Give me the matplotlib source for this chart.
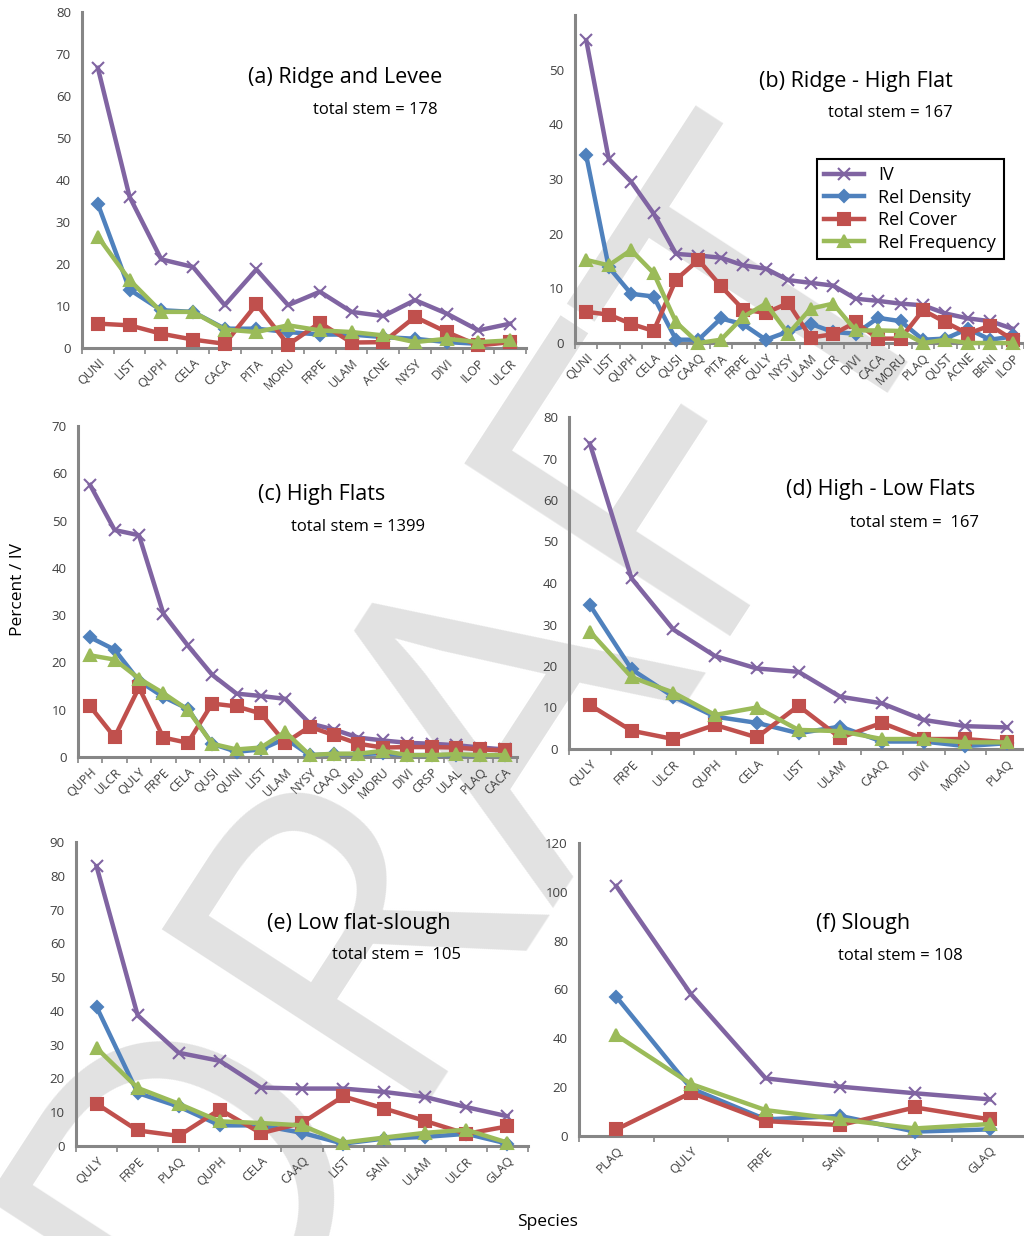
import numpy as np
import matplotlib.pyplot as plt

plt.rcParams['font.family'] = ['Open Sans', 'DejaVu Sans']

# ---- data ----
sp_a = ["QUNI", "LIST", "QUPH", "CELA", "CACA", "PITA", "MORU", "FRPE", "ULAM",
        "ACNE", "NYSY", "DIVI", "ILOP", "ULCR"]
iv_a = [66.7, 36.0, 21.1, 19.3, 10.2, 18.7, 10.2, 13.4, 8.6, 7.6, 11.4, 8.2, 4.2, 5.8]
den_a = [34.3, 13.9, 9.0, 8.6, 4.6, 4.6, 3.8, 3.2, 3.2, 2.6, 2.2, 1.4, 1.0, 1.4]
cov_a = [5.8, 5.4, 3.4, 2.0, 1.0, 10.4, 0.8, 6.0, 1.3, 1.4, 7.4, 3.8, 0.6, 1.4]
frq_a = [26.5, 16.2, 8.6, 8.6, 4.4, 3.8, 5.4, 4.2, 3.8, 3.0, 1.4, 2.2, 1.4, 1.8]

sp_b = ["QUNI", "LIST", "QUPH", "CELA", "QUSI", "CAAQ", "PITA", "FRPE", "QULY", "NYSY",
        "ULAM", "ULCR", "DIVI", "CACA", "MORU", "PLAQ", "QUST", "ACNE", "BENI", "ILOP"]
iv_b = [55.4, 33.7, 29.5, 23.7, 16.3, 16.0, 15.6, 14.2, 13.6, 11.5,
        11.0, 10.5, 8.1, 7.7, 7.2, 6.9, 5.4, 4.5, 4.0, 2.6]
den_b = [34.3, 13.9, 9.0, 8.5, 0.6, 0.6, 4.5, 3.4, 0.6, 2.1,
         3.5, 2.0, 1.7, 4.6, 4.0, 0.6, 0.8, 2.6, 0.6, 1.2]
cov_b = [5.7, 5.2, 3.5, 2.2, 11.6, 15.2, 10.4, 6.1, 5.5, 7.3,
         1.0, 1.6, 3.8, 0.8, 0.8, 6.0, 3.8, 1.7, 3.2, 0.6]
frq_b = [15.2, 14.2, 17.0, 12.8, 3.8, 0.0, 0.6, 4.8, 7.2, 1.7,
         6.3, 7.2, 2.3, 2.3, 2.2, 0.0, 0.6, 0.0, 0.0, 0.0]

sp_c = ["QUPH", "ULCR", "QULY", "FRPE", "CELA", "QUSI", "QUNI", "LIST", "ULAM",
        "NYSY", "CAAQ", "ULRU", "MORU", "DIVI", "CRSP", "ULAL", "PLAQ", "CACA"]
iv_c = [57.5, 48.0, 46.9, 30.3, 23.6, 17.4, 13.4, 12.9, 12.3,
        7.1, 5.8, 4.1, 3.5, 3.0, 2.8, 2.5, 2.0, 1.6]
den_c = [25.3, 22.7, 16.1, 12.7, 10.2, 2.8, 1.1, 1.6, 3.9,
         0.4, 0.6, 0.6, 0.8, 0.4, 0.4, 0.4, 0.4, 0.4]
cov_c = [10.7, 4.2, 14.7, 4.1, 3.0, 11.3, 10.7, 9.2, 3.0,
         6.4, 4.6, 2.8, 2.0, 2.1, 2.1, 2.0, 1.6, 1.4]
frq_c = [21.5, 20.6, 16.6, 13.5, 10.0, 2.8, 1.6, 2.0, 5.3,
         0.4, 0.7, 0.7, 1.3, 0.4, 0.4, 0.6, 0.4, 0.4]

sp_d = ["QULY", "FRPE", "ULCR", "QUPH", "CELA", "LIST", "ULAM", "CAAQ", "DIVI", "MORU", "PLAQ"]
iv_d = [73.6, 41.1, 28.8, 22.4, 19.4, 18.6, 12.6, 11.0, 7.0, 5.5, 5.2]
den_d = [34.7, 19.2, 12.6, 7.8, 6.3, 3.8, 5.4, 1.8, 1.8, 0.7, 1.4]
cov_d = [10.6, 4.4, 2.4, 5.8, 2.8, 10.4, 2.7, 6.3, 2.4, 2.4, 1.6]
frq_d = [28.3, 17.3, 13.6, 8.2, 10.0, 4.6, 4.3, 2.4, 2.4, 1.6, 1.6]

sp_e = ["QULY", "FRPE", "PLAQ", "QUPH", "CELA", "CAAQ", "LIST", "SANI", "ULAM", "ULCR", "GLAQ"]
iv_e = [82.8, 38.7, 27.6, 25.2, 17.3, 17.0, 17.0, 16.0, 14.5, 11.5, 8.8]
den_e = [41.2, 15.7, 11.7, 6.1, 6.1, 3.9, 0.7, 2.2, 2.7, 3.6, 0.7]
cov_e = [12.5, 4.6, 3.0, 10.8, 3.8, 6.8, 14.7, 11.1, 7.4, 3.6, 5.8]
frq_e = [29.0, 17.2, 12.5, 7.3, 6.8, 6.1, 1.0, 2.5, 3.9, 4.8, 1.0]

sp_f = ["PLAQ", "QULY", "FRPE", "SANI", "CELA", "GLAQ"]
iv_f = [102.3, 58.1, 23.6, 20.2, 17.5, 15.0]
den_f = [57.0, 19.5, 6.8, 8.2, 1.8, 2.7]
cov_f = [2.7, 17.7, 6.1, 4.5, 11.7, 6.8]
frq_f = [41.3, 21.3, 10.6, 6.8, 3.1, 4.9]

W, H = 1024, 1236
fig = plt.figure(figsize=(W / 100, H / 100), dpi=100)

# faint DRAFT watermark, drawn behind the charts
fig.text(0.47, 0.40, "DRAFT", fontsize=320, color="#e2e2e2", rotation=57,
         ha="center", va="center", zorder=-5)

series = [("IV", "#8064A2", "x", 9),
          ("Rel Density", "#4F81BD", "D", 6),
          ("Rel Cover", "#C0504D", "s", 8),
          ("Rel Frequency", "#9BBB59", "^", 8)]


def panel(box, species, values, ymax, ystep, title, stem, tpos, spos, yticks_max=None):
    """Draw one panel; box = (left, top, right, bottom) in pixels."""
    l, t, r, b = box
    ax = fig.add_axes([l / W, 1 - b / H, (r - l) / W, (b - t) / H])
    ax.patch.set_alpha(0)
    x = np.arange(len(species))
    handles = []
    for (name, color, marker, ms), vals in zip(series, values):
        h, = ax.plot(x, vals, color=color, lw=3.2, marker=marker, ms=ms,
                     mew=1.5, label=name, clip_on=False, zorder=3)
        handles.append(h)
    ax.set_xlim(-0.5, len(species) - 0.5)
    ax.set_ylim(0, ymax)
    top = ymax if yticks_max is None else yticks_max
    ax.set_yticks(np.arange(0, top + 1, ystep))
    ax.set_xticks(x)
    ax.set_xticklabels(species, rotation=45, ha="right", rotation_mode="anchor")
    ax.set_xticks(np.arange(len(species) + 1) - 0.5, minor=True)
    ax.tick_params(axis="x", which="major", length=0, labelsize=9, colors="#404040", pad=6)
    ax.tick_params(axis="x", which="minor", length=4, width=1.2, color="#868686")
    ax.tick_params(axis="y", length=0, labelsize=9.5, colors="#404040", pad=8)
    for s in ["top", "right"]:
        ax.spines[s].set_visible(False)
    for s in ["left", "bottom"]:
        ax.spines[s].set_color("#868686")
        ax.spines[s].set_linewidth(2.2)
    fig.text(tpos[0] / W, 1 - tpos[1] / H, title, fontsize=15.5, ha="center", va="center")
    fig.text(spos[0] / W, 1 - spos[1] / H, stem, fontsize=12, ha="center", va="center")
    return handles


handles = panel((82, 12, 526, 348), sp_a, [iv_a, den_a, cov_a, frq_a], 80, 10,
                "(a) Ridge and Levee", "total stem = 178", (345, 78), (375, 110))
panel((575, 15, 1024, 343), sp_b, [iv_b, den_b, cov_b, frq_b], 60, 10,
      "(b) Ridge - High Flat", "total stem = 167", (856, 81), (890, 113), yticks_max=50)
panel((78, 426, 517, 757), sp_c, [iv_c, den_c, cov_c, frq_c], 70, 10,
      "(c) High Flats", "total stem = 1399", (322, 495), (358, 527))
panel((569, 417, 1028, 749), sp_d, [iv_d, den_d, cov_d, frq_d], 80, 10,
      "(d) High - Low Flats", "total stem =  167", (881, 490), (914, 523))
panel((76, 842, 528, 1146), sp_e, [iv_e, den_e, cov_e, frq_e], 90, 10,
      "(e) Low flat-slough", "total stem =  105", (359, 923), (396, 955))
panel((579, 843, 1027, 1136), sp_f, [iv_f, den_f, cov_f, frq_f], 120, 20,
      "(f) Slough", "total stem = 108", (863, 923), (900, 956))

leg = fig.legend(handles=handles, loc="upper left",
                 bbox_to_anchor=(808 / W, 1 - 150 / H), fontsize=13,
                 fancybox=False, framealpha=1, edgecolor="black",
                 handlelength=2.2, borderpad=0.4, labelspacing=0.25)
leg.get_frame().set_linewidth(1.5)

fig.text(18 / W, 1 - 590 / H, "Percent / IV", rotation=90, fontsize=12.5,
         ha="center", va="center")
fig.text(547 / W, 1 - 1222 / H, "Species", fontsize=12.5, ha="center", va="center")

plt.savefig("out.png", dpi=100)
